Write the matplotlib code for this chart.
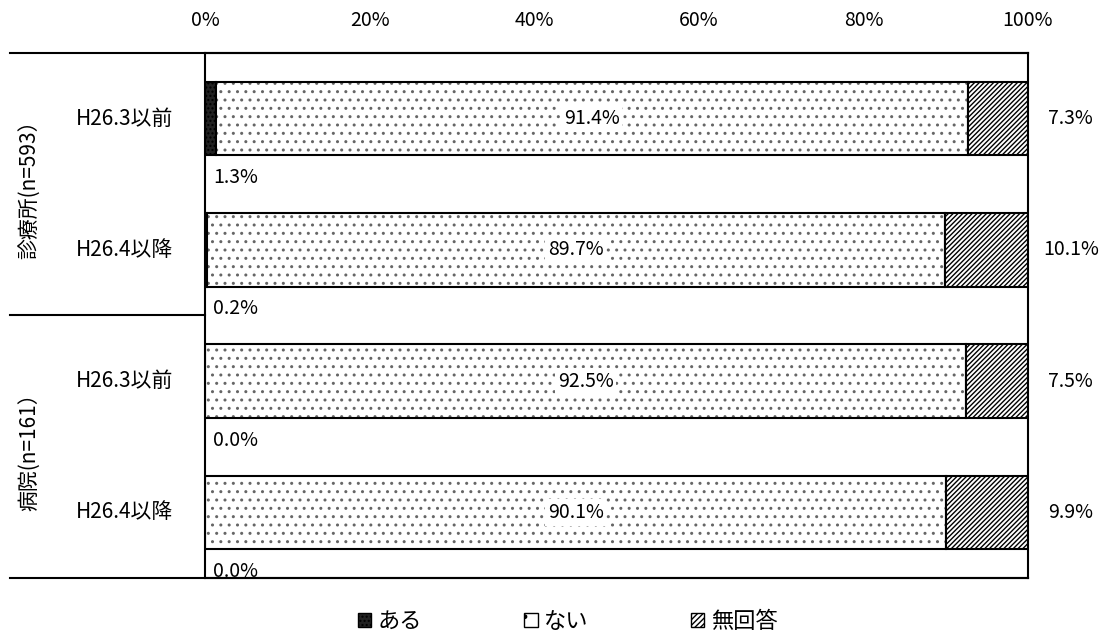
import matplotlib.pyplot as plt
from matplotlib.patches import Patch
from matplotlib.lines import Line2D
import numpy as np

plt.rcParams['font.family'] = ['Noto Sans CJK JP', 'DejaVu Sans']
plt.rcParams['hatch.linewidth'] = 1.0

# data
groups = ['診療所(n=593）', '病院(n=161）']
periods = ['H26.3以前', 'H26.4以降', 'H26.3以前', 'H26.4以降']
aru = [1.3, 0.2, 0.0, 0.0]
nai = [91.4, 89.7, 92.5, 90.1]
mukaito = [7.3, 10.1, 7.5, 9.9]
series_names = ['ある', 'ない', '無回答']

fig = plt.figure(figsize=(11.13, 6.41), dpi=100)
ax = fig.add_axes([0.1842, 0.0983, 0.7394, 0.819])

y = np.arange(len(periods))
h = 0.56
aru_a = np.array(aru)
nai_a = np.array(nai)
muk_a = np.array(mukaito)

ax.barh(y, aru_a, h, color='#222222', edgecolor='black', linewidth=1.5, hatch='....')
# dotted fill in gray, then black outline on top
ax.barh(y, nai_a, h, left=aru_a, color='white', edgecolor='#666666', linewidth=0, hatch='..')
ax.barh(y, nai_a, h, left=aru_a, color='none', edgecolor='black', linewidth=1.5)
ax.barh(y, muk_a, h, left=aru_a + nai_a, color='white', edgecolor='black', linewidth=1.5, hatch='///////')

ax.set_xlim(0, 100)
ax.set_ylim(len(periods) - 0.5, -0.5)
ax.xaxis.tick_top()
ax.set_xticks(np.arange(0, 101, 20))
ax.set_xticklabels([f'{v}%' for v in range(0, 101, 20)], fontsize=14)
ax.tick_params(axis='x', length=0, pad=16)
ax.set_yticks([])
for s in ['left', 'right', 'top', 'bottom']:
    ax.spines[s].set_linewidth(1.5)

fs = 14
# value labels
for i in range(len(periods)):
    ax.text(1.0, y[i] + 0.45, f'{aru[i]:.1f}%', ha='left', va='center', fontsize=fs)
    ax.text(aru[i] + nai[i] / 2, y[i], f'{nai[i]:.1f}%', ha='center', va='center', fontsize=fs,
            bbox=dict(facecolor='white', edgecolor='none', pad=2))
    ax.text(105.2, y[i], f'{mukaito[i]:.1f}%', ha='center', va='center', fontsize=fs)
    ax.text(-9.8, y[i], periods[i], ha='center', va='center', fontsize=15)

# group labels
for g, name in enumerate(groups):
    ax.text(-21.3, 0.5 + 2 * g, name, ha='center', va='center', rotation=90, fontsize=15)

# outer horizontal lines extending left
x0 = 10 / 1113
for yy in [0.9173, 0.0983]:
    fig.add_artist(Line2D([x0, 0.9236], [yy, yy], color='black', lw=1.5))
mid = 1 - 315 / 641
fig.add_artist(Line2D([x0, 0.1842], [mid, mid], color='black', lw=1.5))

handles = [
    Patch(facecolor='#222222', edgecolor='black', hatch='....'),
    Patch(facecolor='white', edgecolor='black', hatch='.'),
    Patch(facecolor='white', edgecolor='black', hatch='//////'),
]
fig.legend(handles, series_names, loc='center', bbox_to_anchor=(0.51, 0.03), ncol=3,
           frameon=False, fontsize=16, handlelength=0.6, handleheight=0.6,
           handletextpad=0.3, columnspacing=4.6)

fig.savefig('out.png', dpi=100)
